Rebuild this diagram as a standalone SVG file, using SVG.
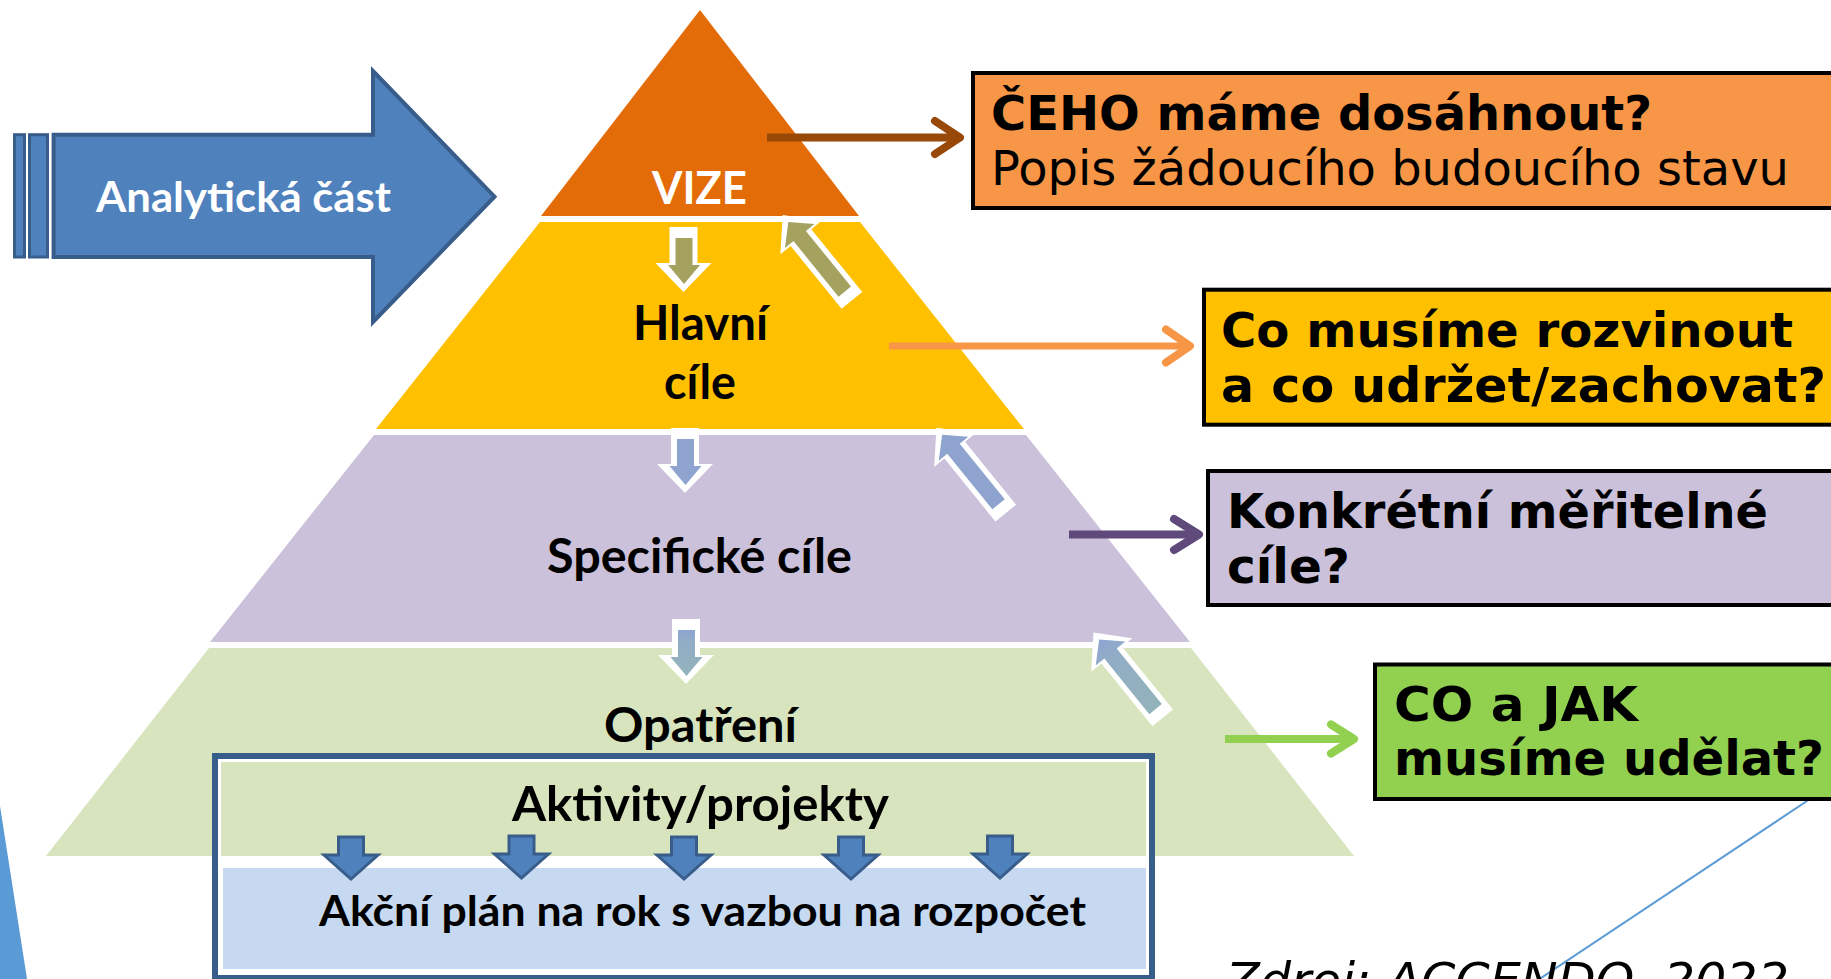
<svg xmlns="http://www.w3.org/2000/svg" xmlns:xlink="http://www.w3.org/1999/xlink" width="1831" height="979" viewBox="0 0 1831 979">
<style>
.cal{font-family:"Lato","Open Sans","Liberation Sans",sans-serif;font-weight:bold;text-anchor:middle}
.ver{font-family:"DejaVu Sans","Verdana",sans-serif;font-size:47.5px;fill:#000}
.vb{font-weight:bold}
.box{stroke:#000;stroke-width:4}
.ln{fill:none;stroke-linecap:butt}
.hd{fill:none;stroke-linecap:round;stroke-linejoin:round}
.sa{fill:#4F81BD;stroke:#385D8A;stroke-width:3;stroke-linejoin:miter}
</style>
<defs>
<path id="dwhite" d="M-14,0 H14 V36 H28 L0,65 L-28,36 H-14 Z"/>
<path id="dinner" d="M-8.5,11 H8.5 V38 H16 L0,57 L-16,38 H-8.5 Z"/>
<path id="uwhite" d="M0,0 L26.5,29 H13.3 V110 H-13.3 V29 H-26.5 Z"/>
<path id="uinner" d="M0,9 L19,27 H8 V98.6 H-8 V27 H-19 Z"/>
<path id="sarrow" d="M-12.5,0 H12.5 V18 H27 L0,42 L-27,18 H-12.5 Z"/>
<linearGradient id="gteal" x1="0" y1="0" x2="0" y2="1">
<stop offset="0" stop-color="#8EA4D2"/>
<stop offset="0.25" stop-color="#91ADC6"/>
<stop offset="1" stop-color="#93B3BA"/>
</linearGradient>
</defs>

<rect width="1831" height="979" fill="#fff"/>

<g id="left-sliver"><polygon points="0,806 27,979 0,979" fill="#5B9BD5"/></g>

<g id="analyticka-cast">
<rect x="14.5" y="134.7" width="10" height="122.3" fill="#4F81BD" stroke="#385D8A" stroke-width="3"/>
<rect x="29.5" y="134.7" width="18" height="122.3" fill="#4F81BD" stroke="#385D8A" stroke-width="3"/>
<path d="M53.6,134.7 H373 V71 L494.5,196.7 L373,322 V257 H53.6 Z" fill="#4F81BD" stroke="#385D8A" stroke-width="4"/>
<text class="cal" x="243.5" y="212" font-size="42" fill="#fff" textLength="295" lengthAdjust="spacingAndGlyphs">Analytická část</text>
</g>

<g id="vize">
<polygon points="700,10 541,216 859,216" fill="#E36C09"/>
<text class="cal" x="699.5" y="204" font-size="45" fill="#fff" textLength="95" lengthAdjust="spacingAndGlyphs">VIZE</text>
</g>

<g id="hlavni-cile">
<polygon points="540,222 860,222 1024,429 376,429" fill="#FFC000"/>
<text class="cal" x="700.5" y="340" font-size="47" fill="#000" textLength="135" lengthAdjust="spacingAndGlyphs">Hlavní</text>
<text class="cal" x="700" y="399" font-size="47" fill="#000" textLength="72" lengthAdjust="spacingAndGlyphs">cíle</text>
</g>

<g id="specificke-cile">
<polygon points="374,435 1026,435 1190,642 210,642" fill="#CCC1DA"/>
<text class="cal" x="699.5" y="573" font-size="47" fill="#000" textLength="305" lengthAdjust="spacingAndGlyphs">Specifické cíle</text>
</g>

<g id="opatreni">
<polygon points="209,648 1191,648 1354,856 46,856" fill="#D7E4BD"/>
<text class="cal" x="700.5" y="742" font-size="47" fill="#000" textLength="193" lengthAdjust="spacingAndGlyphs">Opatření</text>
</g>

<g id="aktivity-projekty">
<rect x="215" y="756" width="937" height="222" fill="none" stroke="#385D8A" stroke-width="6"/>
<rect x="219.5" y="760.5" width="928" height="213" fill="none" stroke="#fff" stroke-width="3"/>
<text class="cal" x="700.5" y="821" font-size="47" fill="#000" textLength="377" lengthAdjust="spacingAndGlyphs">Aktivity/projekty</text>
</g>

<g id="akcni-plan">
<rect x="223" y="868" width="923" height="101" fill="#C6D9F1"/>
<text class="cal" x="702.5" y="926" font-size="42.5" fill="#000" textLength="767" lengthAdjust="spacingAndGlyphs">Akční plán na rok s vazbou na rozpočet</text>
</g>

<g id="box-ceho">
<rect class="box" x="973" y="73" width="900" height="135" fill="#F79646"/>
<text class="ver vb" x="991" y="130" textLength="661" lengthAdjust="spacingAndGlyphs">ČEHO máme dosáhnout?</text>
<text class="ver" x="991" y="185" textLength="798" lengthAdjust="spacingAndGlyphs">Popis žádoucího budoucího stavu</text>
</g>

<g id="box-rozvinout">
<rect class="box" x="1204" y="289.7" width="700" height="135" fill="#FFC000"/>
<text class="ver vb" x="1221" y="347" textLength="572" lengthAdjust="spacingAndGlyphs">Co musíme rozvinout</text>
<text class="ver vb" x="1221" y="402" textLength="605" lengthAdjust="spacingAndGlyphs">a co udržet/zachovat?</text>
</g>

<g id="box-merici">
<rect class="box" x="1208" y="471" width="700" height="134" fill="#CCC1DA"/>
<text class="ver vb" x="1227" y="528" textLength="541" lengthAdjust="spacingAndGlyphs">Konkrétní měřitelné</text>
<text class="ver vb" x="1227" y="583" textLength="123" lengthAdjust="spacingAndGlyphs">cíle?</text>
</g>

<line x1="1810" y1="799" x2="1538" y2="980" stroke="#5B9BD5" stroke-width="2"/>

<g id="box-co-jak">
<rect class="box" x="1375" y="664.5" width="600" height="134.5" fill="#92D050"/>
<text class="ver vb" x="1394" y="721" textLength="244" lengthAdjust="spacingAndGlyphs">CO a JAK</text>
<text class="ver vb" x="1394" y="775" textLength="430" lengthAdjust="spacingAndGlyphs">musíme udělat?</text>
</g>

<g id="source">
<text class="ver" x="1226" y="997" font-size="48.5" font-style="italic" textLength="563" lengthAdjust="spacingAndGlyphs">Zdroj: ACCENDO, 2022</text>
</g>

<g id="connectors">
<path class="ln" d="M767,137.5 H958" stroke="#984807" stroke-width="8"/>
<path class="hd" d="M935,121 L960,137.5 L935,154" stroke="#984807" stroke-width="8"/>
<path class="ln" d="M889,346 H1188" stroke="#F79646" stroke-width="7"/>
<path class="hd" d="M1166,329.5 L1190,346 L1166,362.5" stroke="#F79646" stroke-width="8"/>
<path class="ln" d="M1069,534.5 H1197" stroke="#604A7B" stroke-width="8"/>
<path class="hd" d="M1174,519 L1199,534.5 L1174,550" stroke="#604A7B" stroke-width="8"/>
<path class="ln" d="M1225,739 H1352" stroke="#92D050" stroke-width="8"/>
<path class="hd" d="M1331,724.5 L1354,739 L1331,753.5" stroke="#92D050" stroke-width="8"/>

<use xlink:href="#dwhite" href="#dwhite" transform="translate(683.5,227)" fill="#fff"/>
<use xlink:href="#dinner" href="#dinner" transform="translate(684,227)" fill="#A5A25F"/>
<use xlink:href="#dwhite" href="#dwhite" transform="translate(685,428)" fill="#fff"/>
<use xlink:href="#dinner" href="#dinner" transform="translate(685.5,428)" fill="#8EA3CE"/>
<use xlink:href="#dwhite" href="#dwhite" transform="translate(686,619)" fill="#fff"/>
<use xlink:href="#dinner" href="#dinner" transform="translate(686.5,619)" fill="url(#gteal)"/>

<use xlink:href="#uwhite" href="#uwhite" transform="translate(782.7,215) rotate(-39)" fill="#fff"/>
<use xlink:href="#uinner" href="#uinner" transform="translate(782.7,215) rotate(-39)" fill="#A5A25F"/>
<use xlink:href="#uwhite" href="#uwhite" transform="translate(936.5,427.7) rotate(-39)" fill="#fff"/>
<use xlink:href="#uinner" href="#uinner" transform="translate(936.5,427.7) rotate(-39)" fill="#8EA3CE"/>
<use xlink:href="#uwhite" href="#uwhite" transform="translate(1093.5,632.5) rotate(-39)" fill="#fff"/>
<use xlink:href="#uinner" href="#uinner" transform="translate(1093.5,632.5) rotate(-39)" fill="url(#gteal)"/>

<use xlink:href="#sarrow" href="#sarrow" class="sa" transform="translate(351,837)"/>
<use xlink:href="#sarrow" href="#sarrow" class="sa" transform="translate(521.5,836)"/>
<use xlink:href="#sarrow" href="#sarrow" class="sa" transform="translate(684,837)"/>
<use xlink:href="#sarrow" href="#sarrow" class="sa" transform="translate(851,837)"/>
<use xlink:href="#sarrow" href="#sarrow" class="sa" transform="translate(1000,836)"/>
</g>
</svg>
